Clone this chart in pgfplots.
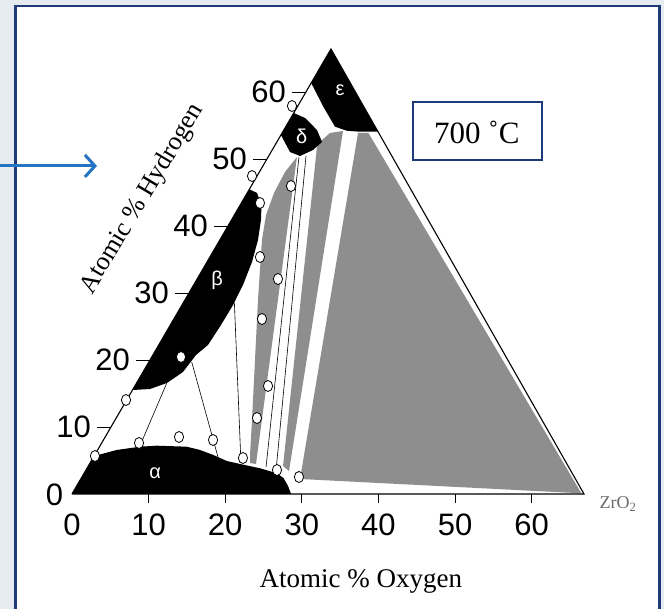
\documentclass[border=0pt]{standalone}
\usepackage{fontspec}
\setmainfont{Liberation Serif}
\newfontfamily\sansf{Liberation Sans}
\usepackage{pgfplots}
\pgfplotsset{compat=1.18}
\usetikzlibrary{arrows.meta}
\definecolor{phasegray}{HTML}{8E8E8E}
\definecolor{panelnavy}{HTML}{1F3A78}
\definecolor{bgblue}{HTML}{E6EAF1}
\definecolor{arrowblue}{HTML}{2474C2}
\definecolor{zrgray}{HTML}{6A6A6A}
\newcommand{\ticklab}{\sansf\fontsize{31}{36}\selectfont}
\newcommand{\titlefont}{\fontsize{27}{32}\selectfont}
\newcommand{\greekfont}{\sansf\fontsize{20}{24}\selectfont}
\begin{document}
\begin{tikzpicture}
\begin{axis}[
  scale only axis, width=664pt, height=609pt,
  xmin=-9.399, xmax=77.285, ymin=-17.164, ymax=73.731,
  hide axis, clip=false,
]
% ---- background / panel (decoration) ----
\fill[bgblue] (rel axis cs:0,0) rectangle (rel axis cs:1,1);
\fill[white] (axis cs:-7.38,-17.164) rectangle (axis cs:76.70,72.87);
\draw[panelnavy, line width=2.5pt] (axis cs:-7.38,-17.164) -- (axis cs:-7.38,72.87) -- (axis cs:76.70,72.87) -- (axis cs:76.70,-17.164);
\draw[arrowblue, line width=3pt, -{Straight Barb[length=10pt,width=22pt]}] (axis cs:-9.399,48.96) -- (axis cs:3.26,48.96);

% ---- phase regions (x = horizontal position in oxygen-axis units, y = at.% H) ----
% large grey region
\addplot[draw=none, fill=phasegray] coordinates {(37.34,53.88) (38.70,53.88) (66.50,0.10) (29.77,2.24)} -- cycle;
% grey stripe B
\addplot[draw=none, fill=phasegray] coordinates {(31.98,51.79) (32.64,52.84) (33.68,53.88) (35.38,54.18) (28.33,3.43) (27.55,4.18)} -- cycle;
% grey region A
\addplot[draw=none, fill=phasegray] coordinates {(29.37,50.30) (27.81,48.06) (26.37,44.93) (25.33,41.64) (24.80,37.91) (24.54,33.43) (24.28,28.96) (24.02,22.99) (23.76,17.01) (23.50,11.04) (23.24,5.82) (23.24,4.63) (24.02,4.48)} -- cycle;
% alpha
\addplot[draw=none, fill=black] coordinates {(0,0) (2.9,5.67) (5.84,6.57) (8.88,7.06) (11.06,7.21) (14.97,7.06) (16.71,6.57) (18.45,5.82) (20.2,4.93) (21.93,4.48) (24.54,3.84) (26.72,3.10) (27.6,2.40) (28.2,1.20) (28.6,0)} -- cycle;
% beta
\addplot[draw=none, fill=black] coordinates {(7.9,15.52) (23.16,45.48) (24.15,44.93) (24.74,43.13) (24.67,40.90) (24.28,37.91) (23.50,34.63) (22.32,31.19) (21.02,28.21) (19.45,25.22) (17.75,22.24) (16.19,20.75) (14.49,18.21) (12.40,16.57) (10.18,15.67)} -- cycle;
% delta
\addplot[draw=none, fill=black] coordinates {(27.28,53.58) (28.94,56.87) (30.42,56.12) (31.98,54.33) (32.64,52.54) (31.46,51.34) (29.77,50.45) (28.46,51.04)} -- cycle;
% epsilon
\addplot[draw=none, fill=black] coordinates {(33.81,66.42) (31.23,61.34) (32.81,57.81) (34.33,54.82) (35.86,54.22) (37.60,54.07) (39.95,54.07)} -- cycle;

% ---- tie lines ----
\addplot[black, line width=0.6pt] coordinates {(12.36,16.52) (8.80,7.00)};
\addplot[black, line width=0.6pt] coordinates {(15.63,19.70) (19.06,5.50)};
\addplot[black, line width=0.6pt] coordinates {(21.20,28.50) (22.06,4.60)};
\addplot[black, line width=0.6pt] coordinates {(29.63,50.30) (25.33,4.00)};
\addplot[black, line width=0.6pt] coordinates {(30.55,50.45) (26.63,3.40)};

% ---- triangle edges ----
\addplot[black, line width=1.1pt] coordinates {(0,0) (33.81,66.42) (66.84,0) (0,0)};

% ---- ticks ----
\addplot[black, line width=0.8pt] coordinates {(10,0) (10,-1.3)};
\addplot[black, line width=0.8pt] coordinates {(20,0) (20,-1.3)};
\addplot[black, line width=0.8pt] coordinates {(30,0) (30,-1.3)};
\addplot[black, line width=0.8pt] coordinates {(40,0) (40,-1.3)};
\addplot[black, line width=0.8pt] coordinates {(50,0) (50,-1.3)};
\addplot[black, line width=0.8pt] coordinates {(60,0) (60,-1.3)};
\addplot[black, line width=0.8pt] coordinates {(3.26,10) (5.09,10)};
\addplot[black, line width=0.8pt] coordinates {(8.35,20) (10.18,20)};
\addplot[black, line width=0.8pt] coordinates {(13.44,30) (15.27,30)};
\addplot[black, line width=0.8pt] coordinates {(18.53,40) (20.36,40)};
\addplot[black, line width=0.8pt] coordinates {(23.62,50) (25.45,50)};
\addplot[black, line width=0.8pt] coordinates {(28.71,60) (30.54,60)};

% ---- data points ----
\addplot[only marks, mark=*, mark size=4.6pt, mark options={fill=white, draw=black, line width=0.8pt, yscale=1.2}] coordinates {
(3.00,5.67) (7.05,14.03) (14.23,20.45) (8.75,7.61) (13.97,8.51) (18.41,8.06) (22.32,5.37) (26.76,3.58) (29.63,2.54) (24.15,11.34) (25.59,16.12) (24.80,26.12) (26.89,32.09) (24.54,35.37) (24.54,43.43) (23.50,47.46) (28.59,45.97) (28.72,57.91)};

% ---- labels ----
\node[white, font=\greekfont] at (axis cs:10.84,3.13) {α};
\node[white, font=\greekfont] at (axis cs:18.93,31.94) {β};
\node[white, font=\greekfont] at (axis cs:29.97,53.33) {δ};
\node[white, font=\greekfont] at (axis cs:34.99,60.30) {ε};

\node[font=\ticklab, inner sep=0pt] at (axis cs:0,-4.67) {0};
\node[font=\ticklab, inner sep=0pt] at (axis cs:10,-4.67) {10};
\node[font=\ticklab, inner sep=0pt] at (axis cs:20,-4.67) {20};
\node[font=\ticklab, inner sep=0pt] at (axis cs:30,-4.67) {30};
\node[font=\ticklab, inner sep=0pt] at (axis cs:40,-4.67) {40};
\node[font=\ticklab, inner sep=0pt] at (axis cs:50,-4.67) {50};
\node[font=\ticklab, inner sep=0pt] at (axis cs:60,-4.67) {60};
\node[font=\ticklab, inner sep=0pt, anchor=east] at (axis cs:-1.14,-0.15) {0};
\node[font=\ticklab, inner sep=0pt, anchor=east] at (axis cs:2.49,10) {10};
\node[font=\ticklab, inner sep=0pt, anchor=east] at (axis cs:7.58,20) {20};
\node[font=\ticklab, inner sep=0pt, anchor=east] at (axis cs:12.67,30) {30};
\node[font=\ticklab, inner sep=0pt, anchor=east] at (axis cs:17.76,40) {40};
\node[font=\ticklab, inner sep=0pt, anchor=east] at (axis cs:22.85,50) {50};
\node[font=\ticklab, inner sep=0pt, anchor=east] at (axis cs:27.94,60) {60};

\node[font=\titlefont, inner sep=0pt] at (axis cs:37.7,-12.99) {Atomic \% Oxygen};
\node[font=\fontsize{26}{30}\selectfont, inner sep=0pt, rotate=59] at (axis cs:9.2,44.03) {Atomic \% Hydrogen};
\node[font=\fontsize{18}{20}\selectfont, text=zrgray, inner sep=0pt] at (axis cs:71.28,-1.49) {ZrO\textsubscript{2}};

\draw[panelnavy, line width=2pt, fill=white] (axis cs:44.56,49.85) rectangle (axis cs:61.33,58.55);
\node[font=\fontsize{31}{36}\selectfont, inner sep=0pt] at (axis cs:52.85,54.0) {700 ˚C};
\end{axis}
\pgfresetboundingbox
\useasboundingbox (current axis.south west) rectangle (current axis.north east);
\end{tikzpicture}
\end{document}
